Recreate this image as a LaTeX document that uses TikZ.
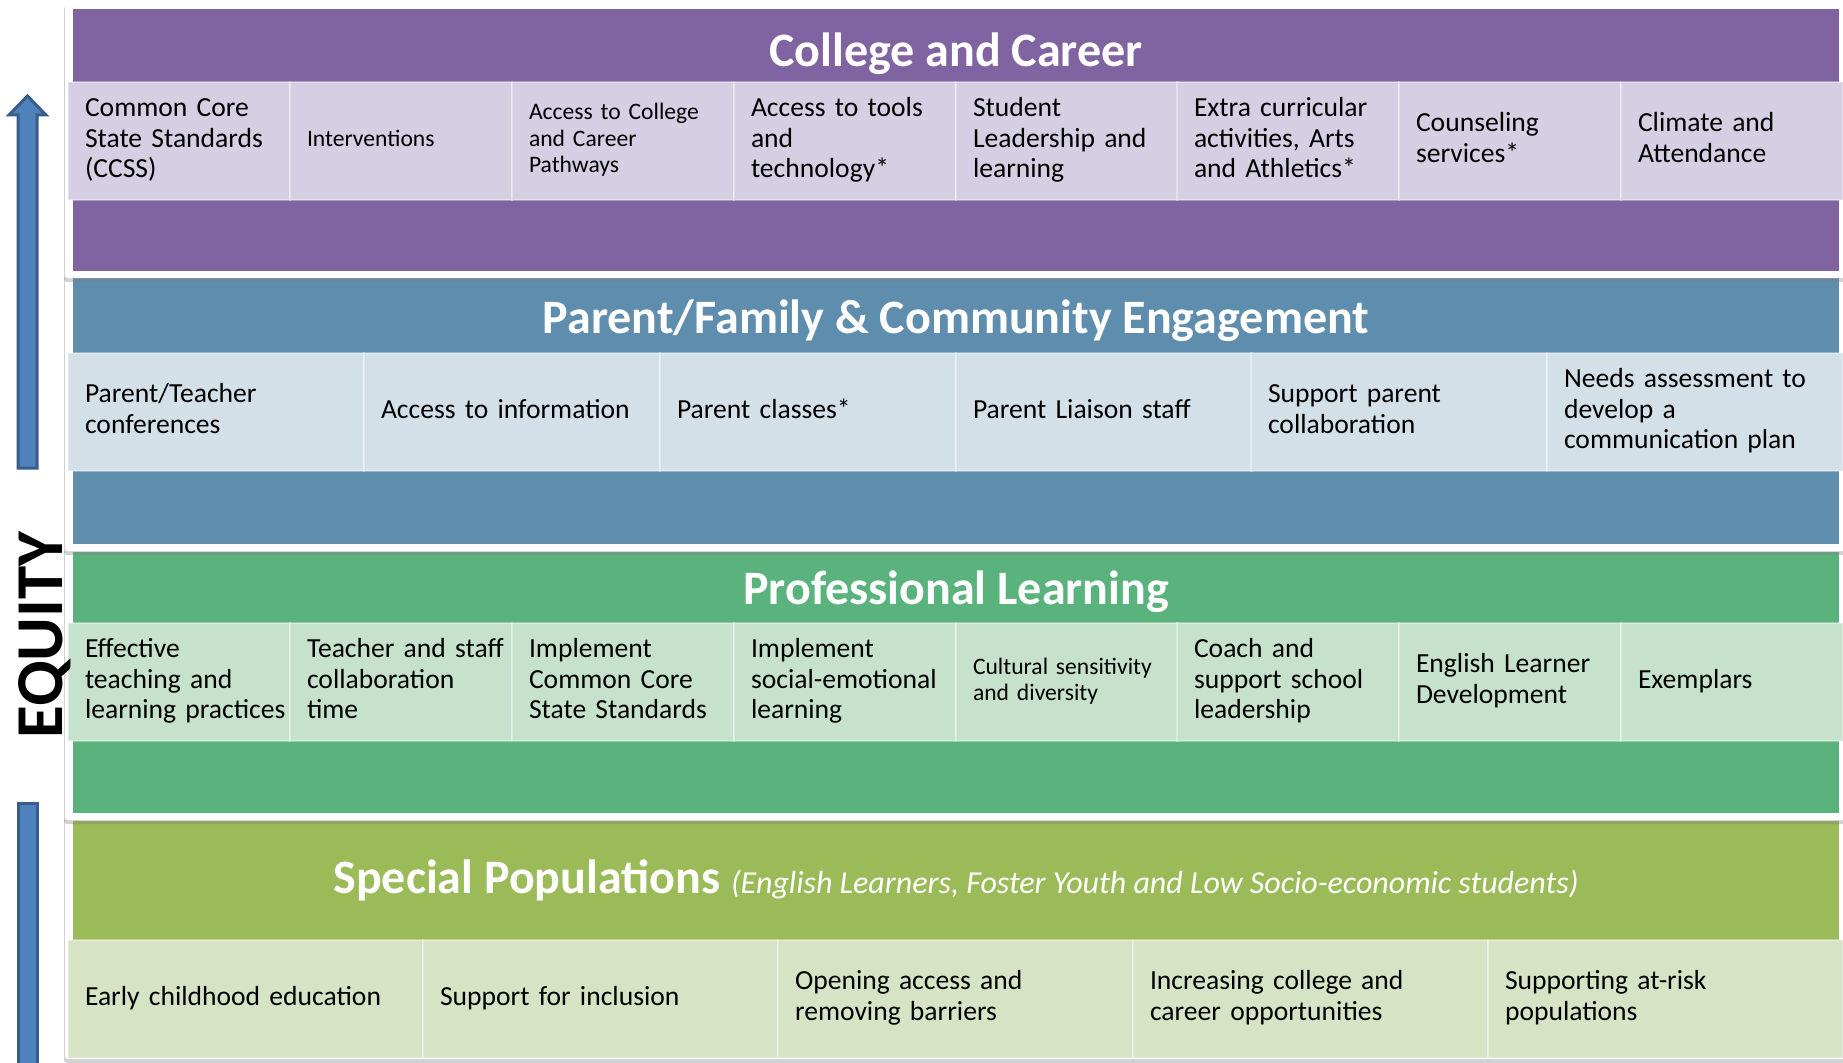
\documentclass[tikz,border=0pt]{standalone}
\usepackage{fontspec}
\setmainfont{Carlito}
\usetikzlibrary{shadows}

\definecolor{ccband}{HTML}{8064A2}
\definecolor{cccell}{HTML}{D6CEE3}
\definecolor{pfband}{HTML}{5F8DAE}
\definecolor{pfcell}{HTML}{D4E0E8}
\definecolor{plband}{HTML}{5AB37D}
\definecolor{plcell}{HTML}{C6E2CC}
\definecolor{spband}{HTML}{9BBB59}
\definecolor{spcell}{HTML}{D7E3C5}
\definecolor{eqfill}{HTML}{4F81BD}
\definecolor{eqline}{HTML}{385D8A}

% lines of a cell, kept unbroken and flush left
\newcommand{\celltext}[1]{\begin{tabular}{@{}l@{}}#1\end{tabular}}

\tikzset{
  panel/.style={fill=white, rounded corners=3pt, drop shadow={shadow xshift=-1pt, shadow yshift=-4pt, opacity=0.35}},
  heading/.style={anchor=base, text=white, inner sep=0pt, font=\bfseries\fontsize{48}{52}\selectfont},
  item/.style={anchor=north west, draw=white, draw opacity=0.35, line width=2pt, minimum height=118pt, inner xsep=17pt, align=left, font=\fontsize{27.6}{30.5}\selectfont},
  ccitem/.style={item, fill=cccell, text width=188pt},
  pfitem/.style={item, fill=pfcell, text width=262pt},
  plitem/.style={item, fill=plcell, text width=188pt},
  spitem/.style={item, fill=spcell, text width=321pt},
  small/.style={font=\fontsize{23.6}{26.5}\selectfont}
}

\begin{document}
\begin{tikzpicture}[x=1pt,y=-1pt]
\useasboundingbox[fill=white] (0,0) rectangle (1843,1062);

% equity arrow
\draw[eqline, fill=eqfill, line width=3pt, line join=miter] (18,468) -- (18,115) -- (9,115) -- (27.5,96) -- (46,115) -- (37,115) -- (37,468) -- cycle;
\draw[eqline, fill=eqfill, line width=3pt] (18,803) rectangle (37,1075);

% special populations
\fill[panel] (65,814) rectangle (1860,1059);
\fill[spband] (73,821) rectangle (1839,1000);
\node[heading] (t4) at (956,893) {Special Populations \textit{\mdseries\fontsize{32}{36}\selectfont (English Learners, Foster Youth and Low Socio-economic students)}};
\node[spitem] (s1) at (67,939) {\celltext{Early childhood education}};
\node[spitem] (s2) at (422,939) {\celltext{Support for inclusion}};
\node[spitem] (s3) at (777,939) {\celltext{Opening access and\\removing barriers}};
\node[spitem] (s4) at (1132,939) {\celltext{Increasing college and\\career opportunities}};
\node[spitem] (s5) at (1487,939) {\celltext{Supporting at-risk\\populations}};

% professional learning
\fill[panel] (65,545) rectangle (1860,820);
\fill[plband] (73,552) rectangle (1839,813);
\node[heading] (t3) at (956,604) {Professional Learning};
\node[plitem] (l1) at (67,622) {\celltext{Effective\\teaching and\\learning practices}};
\node[plitem] (l2) at (289,622) {\celltext{Teacher and staff\\collaboration\\time}};
\node[plitem] (l3) at (511,622) {\celltext{Implement\\Common Core\\State Standards}};
\node[plitem] (l4) at (733,622) {\celltext{Implement\\social-emotional\\learning}};
\node[plitem, small] (l5) at (955,622) {\celltext{Cultural sensitivity\\and diversity}};
\node[plitem] (l6) at (1176,622) {\celltext{Coach and\\support school\\leadership}};
\node[plitem] (l7) at (1398,622) {\celltext{English Learner\\Development}};
\node[plitem] (l8) at (1620,622) {\celltext{Exemplars}};

% parent/family
\fill[panel] (65,272) rectangle (1860,551);
\fill[pfband] (73,278) rectangle (1839,544);
\node[heading] (t2) at (956,333) {Parent/Family \& Community Engagement};
\node[pfitem] (p1) at (67,352) {\celltext{Parent/Teacher\\conferences}};
\node[pfitem] (p2) at (363,352) {\celltext{Access to information}};
\node[pfitem] (p3) at (659,352) {\celltext{Parent classes*}};
\node[pfitem] (p4) at (955,352) {\celltext{Parent Liaison staff}};
\node[pfitem] (p5) at (1250,352) {\celltext{Support parent\\collaboration}};
\node[pfitem] (p6) at (1546,352) {\celltext{Needs assessment to\\develop a\\communication plan}};

% college and career
\fill[panel] (65,2) rectangle (1860,278);
\fill[ccband] (73,9) rectangle (1839,271);
\node[heading] (t1) at (956,67) {College and Career};
\node[ccitem] (c1) at (67,81) {\celltext{Common Core\\State Standards\\(CCSS)}};
\node[ccitem, small] (c2) at (289,81) {\celltext{Interventions}};
\node[ccitem, small] (c3) at (511,81) {\celltext{Access to College\\and Career\\Pathways}};
\node[ccitem] (c4) at (733,81) {\celltext{Access to tools\\and\\technology*}};
\node[ccitem] (c5) at (955,81) {\celltext{Student\\Leadership and\\learning}};
\node[ccitem] (c6) at (1176,81) {\celltext{Extra curricular\\activities, Arts\\and Athletics*}};
\node[ccitem] (c7) at (1398,81) {\celltext{Counseling\\services*}};
\node[ccitem] (c8) at (1620,81) {\celltext{Climate and\\Attendance}};

% equity label, over the panel edge
\node[rotate=90, anchor=base, inner sep=0pt, font=\bfseries\fontsize{67}{67}\selectfont] (eq) at (62,635) {EQUITY};
\end{tikzpicture}
\end{document}
